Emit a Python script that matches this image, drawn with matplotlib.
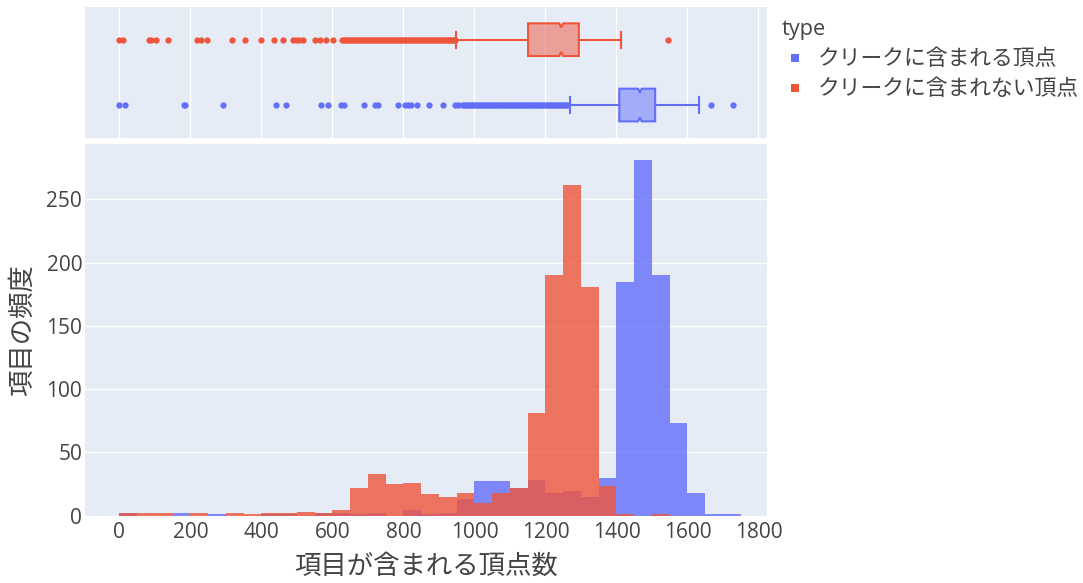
import matplotlib
matplotlib.use("Agg")
import matplotlib.pyplot as plt
from matplotlib.patches import Polygon
from matplotlib.lines import Line2D
import numpy as np

plt.rcParams['font.family'] = ['Open Sans', 'Noto Sans CJK JP', 'DejaVu Sans']

# ---------------- data ----------------
series_names = ["クリークに含まれる頂点", "クリークに含まれない頂点"]
series_colors = ["#636EFA", "#EF553B"]

bin_width = 50
bin_starts = [0, 50, 100, 150, 200, 250, 300, 350, 400, 450,
              500, 550, 600, 650, 700, 750, 800, 850, 900, 950,
              1000, 1050, 1100, 1150, 1200, 1250, 1300, 1350, 1400, 1450,
              1500, 1550, 1600, 1650, 1700]

counts_in = [2, 0, 0, 2, 0, 1, 0, 0, 1, 1,
             0, 2, 2, 1, 2, 0, 4, 1, 2, 13,
             27, 27, 22, 28, 18, 19, 15, 30, 185, 281,
             190, 73, 18, 1, 1]

counts_out = [2, 2, 2, 0, 2, 0, 2, 1, 2, 2,
              3, 2, 4, 22, 33, 25, 26, 17, 15, 18,
              10, 18, 22, 81, 190, 261, 181, 23, 1, 0,
              1, 0, 0, 0, 0]

# box-plot summaries (q1, median, q3, lower whisker, upper whisker, notch low, notch high)
box_in = dict(q1=1408, med=1466, q3=1509, whislo=1268, whishi=1633, cilo=1461, cihi=1471)
box_out = dict(q1=1151, med=1244, q3=1294, whislo=949, whishi=1412, cilo=1239, cihi=1250)

outliers_in = [0, 15, 182, 185, 292, 442, 470, 568, 588, 625, 632, 690, 719, 729,
               786, 804, 813, 820, 839, 872, 910, 945, 955, 964,
               970, 974, 979, 983, 988, 992, 997, 1001, 1006, 1011, 1015, 1020,
               1024, 1029, 1033, 1038, 1043, 1047, 1052, 1056, 1061, 1065, 1070,
               1075, 1079, 1084, 1088, 1093, 1097, 1102, 1107, 1111, 1116, 1120,
               1125, 1129, 1134, 1139, 1143, 1148, 1152, 1157, 1161, 1166, 1171,
               1175, 1180, 1184, 1189, 1193, 1198, 1203, 1207, 1212, 1216, 1221,
               1225, 1230, 1235, 1239, 1244, 1248, 1253, 1257, 1260, 1665, 1727]

outliers_out = [0, 9, 84, 90, 103, 137, 219, 229, 248, 317, 354, 398, 436, 461,
                490, 497, 505, 518, 552, 564, 583, 602,
                628, 632, 637, 641, 646, 650, 655, 659, 664, 668, 673, 677, 682,
                686, 691, 695, 700, 704, 709, 713, 718, 722, 727, 731, 736, 740,
                745, 749, 754, 758, 763, 767, 772, 776, 781, 785, 790, 794, 799,
                803, 808, 812, 817, 821, 826, 830, 835, 839, 844, 848, 853, 857,
                862, 866, 871, 875, 880, 884, 889, 893, 898, 902, 907, 911, 916,
                920, 925, 929, 934, 938, 943, 946, 1545]

x_ticks = [0, 200, 400, 600, 800, 1000, 1200, 1400, 1600, 1800]
y_ticks = [0, 50, 100, 150, 200, 250]
x_label = "項目が含まれる頂点数"
y_label = "項目の頻度"
legend_title = "type"

# ---------------- style ----------------
BG = "#E5ECF6"
TXT = "#444444"
W, H = 1083, 583

fig = plt.figure(figsize=(W / 100, H / 100), dpi=100)
fig.patch.set_facecolor("white")

L, R = 85, 767
main_top, main_bot = 143.7, 515.5
top_top, top_bot = 7, 137.7

ax = fig.add_axes([L / W, 1 - main_bot / H, (R - L) / W, (main_bot - main_top) / H])
axb = fig.add_axes([L / W, 1 - top_bot / H, (R - L) / W, (top_bot - top_top) / H], sharex=ax)

for a in (ax, axb):
    a.set_facecolor(BG)
    for s in a.spines.values():
        s.set_visible(False)
    a.set_axisbelow(True)

# histograms (overlay)
for counts, color in ((counts_in, series_colors[0]), (counts_out, series_colors[1])):
    ax.bar(bin_starts, counts, width=bin_width, align='edge', color=color,
           alpha=0.8, linewidth=0, zorder=2)

ax.set_xlim(-97, 1824)
ax.set_ylim(0, 294)
ax.set_xticks(x_ticks)
ax.set_yticks(y_ticks)
ax.yaxis.grid(True, color="white", linewidth=1)
ax.xaxis.grid(False)
ax.tick_params(axis='both', length=0, labelsize=15, labelcolor=TXT)
ax.tick_params(axis='x', pad=5)
ax.tick_params(axis='y', pad=2)
ax.set_xlabel(x_label, fontsize=19, color=TXT, va='center')
ax.set_ylabel(y_label, fontsize=19, color=TXT, va='center')
ax.xaxis.set_label_coords(0.5, (main_bot - 567) / (main_bot - main_top))
ax.yaxis.set_label_coords((23 - L) / (R - L), 0.5)


# box plots
def draw_box(a, pos, st, outl, color):
    half = 0.25
    notch_half = half * 0.75
    cap = 0.125
    q1, med, q3 = st['q1'], st['med'], st['q3']
    lo, hi = st['cilo'], st['cihi']
    xs = [q1, lo, med, hi, q3, q3, hi, med, lo, q1]
    ys = [pos - half, pos - half, pos - notch_half, pos - half, pos - half,
          pos + half, pos + half, pos + notch_half, pos + half, pos + half]
    a.add_patch(Polygon(np.column_stack([xs, ys]), closed=True,
                        facecolor=color, alpha=0.5, edgecolor='none', zorder=3))
    a.add_patch(Polygon(np.column_stack([xs, ys]), closed=True,
                        facecolor='none', edgecolor=color, linewidth=1.5, zorder=4,
                        joinstyle='miter'))
    a.plot([st['whislo'], q1], [pos, pos], color=color, lw=1.5, zorder=3)
    a.plot([q3, st['whishi']], [pos, pos], color=color, lw=1.5, zorder=3)
    for wv in (st['whislo'], st['whishi']):
        a.plot([wv, wv], [pos - cap, pos + cap], color=color, lw=1.5, zorder=3)
    a.plot(outl, [pos] * len(outl), linestyle='none', marker='o', markersize=4.5,
           markeredgewidth=0, color=color, zorder=5)


draw_box(axb, 0, box_in, outliers_in, series_colors[0])
draw_box(axb, 1, box_out, outliers_out, series_colors[1])
axb.set_ylim(-0.5, 1.5)
axb.set_yticks([])
axb.xaxis.grid(True, color="white", linewidth=1)
axb.tick_params(axis='x', length=0, labelbottom=False)

# legend
handles = [Line2D([], [], marker='s', linestyle='none', markersize=5.8,
                  markeredgewidth=0, color=c) for c in series_colors]
leg = fig.legend(handles, series_names, title=legend_title, loc='upper left',
                 bbox_to_anchor=(782 / W, 1 - 19 / H), frameon=False,
                 fontsize=15.7, title_fontsize=15.7, handletextpad=0.5,
                 labelspacing=0.42, alignment='left', handlelength=1.15,
                 borderaxespad=0, borderpad=0)
for t in leg.get_texts():
    t.set_color(TXT)
leg.get_title().set_color(TXT)

fig.savefig("out.png", dpi=100, facecolor="white")
